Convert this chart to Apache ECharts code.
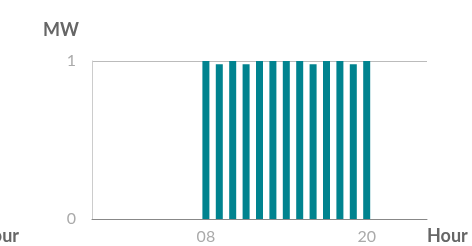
<!DOCTYPE html>
<html><head><meta charset="utf-8">
<script src="https://cdn.jsdelivr.net/npm/echarts@6/dist/echarts.min.js"></script>
<style>html,body{margin:0;padding:0;background:#fff}#c{width:472px;height:246px}</style>
</head><body><div id="c"></div>
<script>
const hours = ['00','01','02','03','04','05','06','07','08','09','10','11','12','13','14','15','16','17','18','19','20','21','22','23','24'];
const power = [null,null,null,null,null,null,null,null,1,0.98,1,0.98,1,1,1,1,0.98,1,1,0.98,1,null,null,null,null];
const shownLabels = ['08','20'];
const yTicks = [0, 1];

const chart = echarts.init(document.getElementById('c'));
chart.setOption({
  animation: false,
  grid: {left: 92, right: 45, top: 61, bottom: 27},
  xAxis: {
    type: 'category', data: hours,
    axisLine: {lineStyle: {color: '#888', width: 1}},
    axisTick: {show: false},
    axisLabel: {
      interval: (i, v) => shownLabels.includes(v),
      color: '#aaa', fontFamily: 'Lato', fontSize: 16, margin: 10
    }
  },
  yAxis: {
    type: 'value', min: yTicks[0], max: yTicks[1], interval: 1,
    axisLine: {show: true, lineStyle: {color: '#ccc', width: 1}},
    axisTick: {show: false},
    splitLine: {lineStyle: {color: '#bbb', width: 1}},
    axisLabel: {color: '#aaa', fontFamily: 'Lato', fontSize: 16, margin: 16}
  },
  series: [{
    type: 'bar', data: power, barWidth: 7,
    itemStyle: {color: '#00838f'}
  }],
  graphic: [
    {type: 'text', left: 43, top: 21, style: {text: 'MW', font: 'bold 18px Lato', fill: '#666'}},
    {type: 'text', left: 427, top: 227, style: {text: 'Hour', font: 'bold 18px Lato', fill: '#666'}},
    {type: 'text', right: 453, top: 227, style: {text: 'Hour', font: 'bold 18px Lato', fill: '#666'}}
  ]
});
</script></body></html>
